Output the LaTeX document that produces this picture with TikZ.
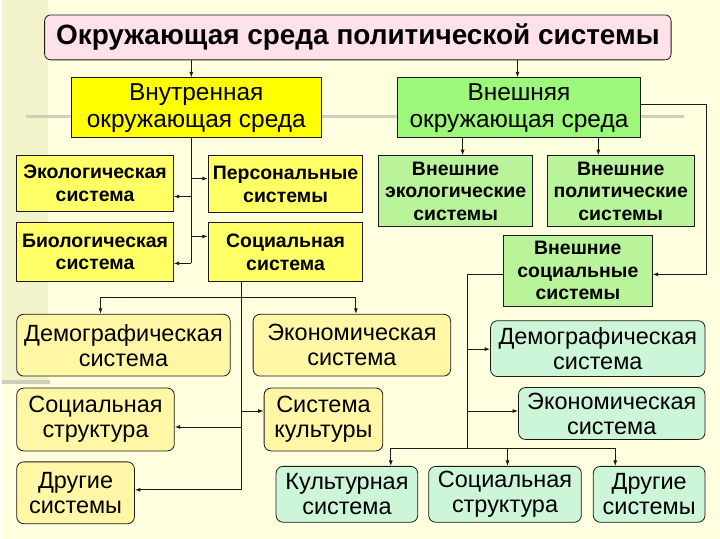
\documentclass[tikz,border=0pt]{standalone}
\usepackage{fontspec}
\setmainfont{Liberation Sans}
\usetikzlibrary{arrows.meta}
\definecolor{bgyel}{HTML}{FFFFDF}
\definecolor{strip}{HTML}{F3F3CB}
\definecolor{decogray}{HTML}{CFCFBE}
\definecolor{ttlpink}{HTML}{FFE1E9}
\definecolor{inyel}{HTML}{FFFF00}
\definecolor{exgreen}{HTML}{9CF77A}
\definecolor{sqyel}{HTML}{FFFF66}
\definecolor{sqgreen}{HTML}{B9F49B}
\definecolor{rdyel}{HTML}{FFF7A6}
\definecolor{rdmint}{HTML}{CDF5D8}
\definecolor{lnk}{HTML}{1A1A1A}
\tikzset{
  box/.style={draw=lnk, line width=0.8pt, align=center, inner sep=1pt},
  ttlbox/.style={box, fill=ttlpink, rounded corners=6pt, font=\fontsize{28}{31}\selectfont\bfseries},
  topin/.style={box, fill=inyel, font=\fontsize{24.5}{27}\selectfont},
  topex/.style={box, fill=exgreen, font=\fontsize{24.5}{27}\selectfont},
  sqin/.style={box, fill=sqyel, font=\fontsize{19.5}{23}\selectfont\bfseries},
  sqex/.style={box, fill=sqgreen, font=\fontsize{19.5}{22.5}\selectfont\bfseries},
  rdin/.style={box, fill=rdyel, rounded corners=7pt, font=\fontsize{23.5}{25}\selectfont},
  rdex/.style={box, fill=rdmint, rounded corners=7pt, font=\fontsize{23.5}{25}\selectfont},
  arr/.style={-{Latex[length=5.5pt,width=4pt]}, line width=0.9pt, draw=lnk},
  lnkline/.style={line width=0.9pt, draw=lnk},
}
\begin{document}
\begin{tikzpicture}[x=1pt, y=-1pt]
  % фон слайда
  \fill[bgyel] (0,0) rectangle (720,540);
  \fill[strip] (0,0) rectangle (46,383);
  \draw[decogray, line width=3.5pt] (24,117) -- (684,117);
  \draw[decogray, line width=3.5pt] (0,383) -- (48,383);
  \useasboundingbox (0,0) rectangle (720,540);

  % заголовок и две ветви
  \node[ttlbox, minimum width=628pt, minimum height=45pt] (title) at (357,37.5) {Окружающая среда политической системы};
  \node[topin, minimum width=250pt, minimum height=60pt] (inner) at (195,108) {Внутренная\\окружающая среда};
  \node[topex, minimum width=243pt, minimum height=60pt] (outer) at (518.5,108) {Внешняя\\окружающая среда};

  % внутренняя среда
  \node[sqin, minimum width=157pt, minimum height=56pt] (eco) at (93.5,184) {Экологическая\\система};
  \node[sqin, minimum width=155pt, minimum height=57pt] (pers) at (284.5,184.5) {Персональные\\системы};
  \node[sqin, minimum width=157pt, minimum height=59pt] (bio) at (93.5,252.5) {Биологическая\\система};
  \node[sqin, minimum width=155pt, minimum height=59pt] (soc) at (284.5,252.5) {Социальная\\система};
  \node[rdin, minimum width=214pt, minimum height=62pt] (demoL) at (122,346) {Демографическая\\система};
  \node[rdin, minimum width=198pt, minimum height=62pt] (econL) at (351,346) {Экономическая\\система};
  \node[rdin, minimum width=158pt, minimum height=63pt] (strL) at (94,420.5) {Социальная\\структура};
  \node[rdin, minimum width=119pt, minimum height=63pt] (cult) at (322.5,420.5) {Система\\культуры};
  \node[rdin, minimum width=118pt, minimum height=62pt] (othL) at (74,494) {Другие\\системы};

  % внешняя среда
  \node[sqex, minimum width=154pt, minimum height=71pt] (execo) at (455,191.5) {Внешние\\экологические\\системы};
  \node[sqex, minimum width=147pt, minimum height=71pt] (expol) at (620.5,191.5) {Внешние\\политические\\системы};
  \node[sqex, minimum width=149pt, minimum height=71pt] (exsoc) at (577.5,271.5) {Внешние\\социальные\\системы};
  \node[rdex, minimum width=215pt, minimum height=56pt] (demoR) at (597.5,349.5) {Демографическая\\система};
  \node[rdex, minimum width=187pt, minimum height=52pt] (econR) at (611.5,414.5) {Экономическая\\система};
  \node[rdex, minimum width=142pt, minimum height=56pt] (cultR) at (346,495.5) {Культурная\\система};
  \node[rdex, minimum width=153pt, minimum height=56pt] (strR) at (504.5,495.5) {Социальная\\структура};
  \node[rdex, minimum width=112pt, minimum height=56pt] (othR) at (649,495.5) {Другие\\системы};

  % связи сверху
  \coordinate (ta) at (190,0);
  \coordinate (tb) at (517,0);
  \draw[arr] (title.south -| ta) -- (inner.north -| ta);
  \draw[arr] (title.south -| tb) -- (outer.north -| tb);

  % ствол внутренней среды
  \coordinate (i1) at (190,179);
  \coordinate (i2) at (190,197);
  \coordinate (i3) at (190,237);
  \coordinate (i4) at (190,264);
  \draw[lnkline] (inner.south -| i1) -- (i4);
  \draw[arr] (i1) -- (i1 -| pers.west);
  \draw[arr] (i2) -- (i2 -| eco.east);
  \draw[arr] (i3) -- (i3 -| soc.west);
  \draw[arr] (i4) -- (i4 -| bio.east);

  % от социальной системы
  \coordinate (s0) at (240,298);
  \coordinate (s1) at (240,412);
  \coordinate (s2) at (240,428);
  \coordinate (s3) at (240,491);
  \coordinate (dL) at (99,298);
  \coordinate (eL) at (355,298);
  \draw[lnkline] (soc.south -| s0) -- (s3);
  \draw[arr] (s0) -- (dL) -- (demoL.north -| dL);
  \draw[arr] (s0) -- (eL) -- (econL.north -| eL);
  \draw[arr] (s1) -- (s1 -| cult.west);
  \draw[arr] (s2) -- (s2 -| strL.east);
  \draw[arr] (s3) -- (s3 -| othL.east);

  % ветви внешней среды
  \coordinate (ea) at (462,0);
  \coordinate (eb) at (598,0);
  \draw[arr] (outer.south -| ea) -- (execo.north -| ea);
  \draw[arr] (outer.south -| eb) -- (expol.north -| eb);
  \coordinate (r1) at (706,105);
  \coordinate (r2) at (706,275);
  \draw[arr] (outer.east |- r1) -- (r1) -- (r2) -- (r2 -| exsoc.east);

  % от внешних социальных систем
  \coordinate (x0) at (467,275);
  \coordinate (x1) at (467,350);
  \coordinate (x2) at (467,412);
  \coordinate (x3) at (467,450);
  \coordinate (cR) at (390,450);
  \coordinate (sR) at (507,450);
  \coordinate (oR) at (615,450);
  \draw[lnkline] (exsoc.west |- x0) -- (x0) -- (x3);
  \draw[arr] (x1) -- (x1 -| demoR.west);
  \draw[arr] (x2) -- (x2 -| econR.west);
  \draw[arr] (x3) -- (cR) -- (cultR.north -| cR);
  \draw[arr] (x3) -- (oR) -- (othR.north -| oR);
  \draw[arr] (sR) -- (strR.north -| sR);
\end{tikzpicture}
\end{document}
